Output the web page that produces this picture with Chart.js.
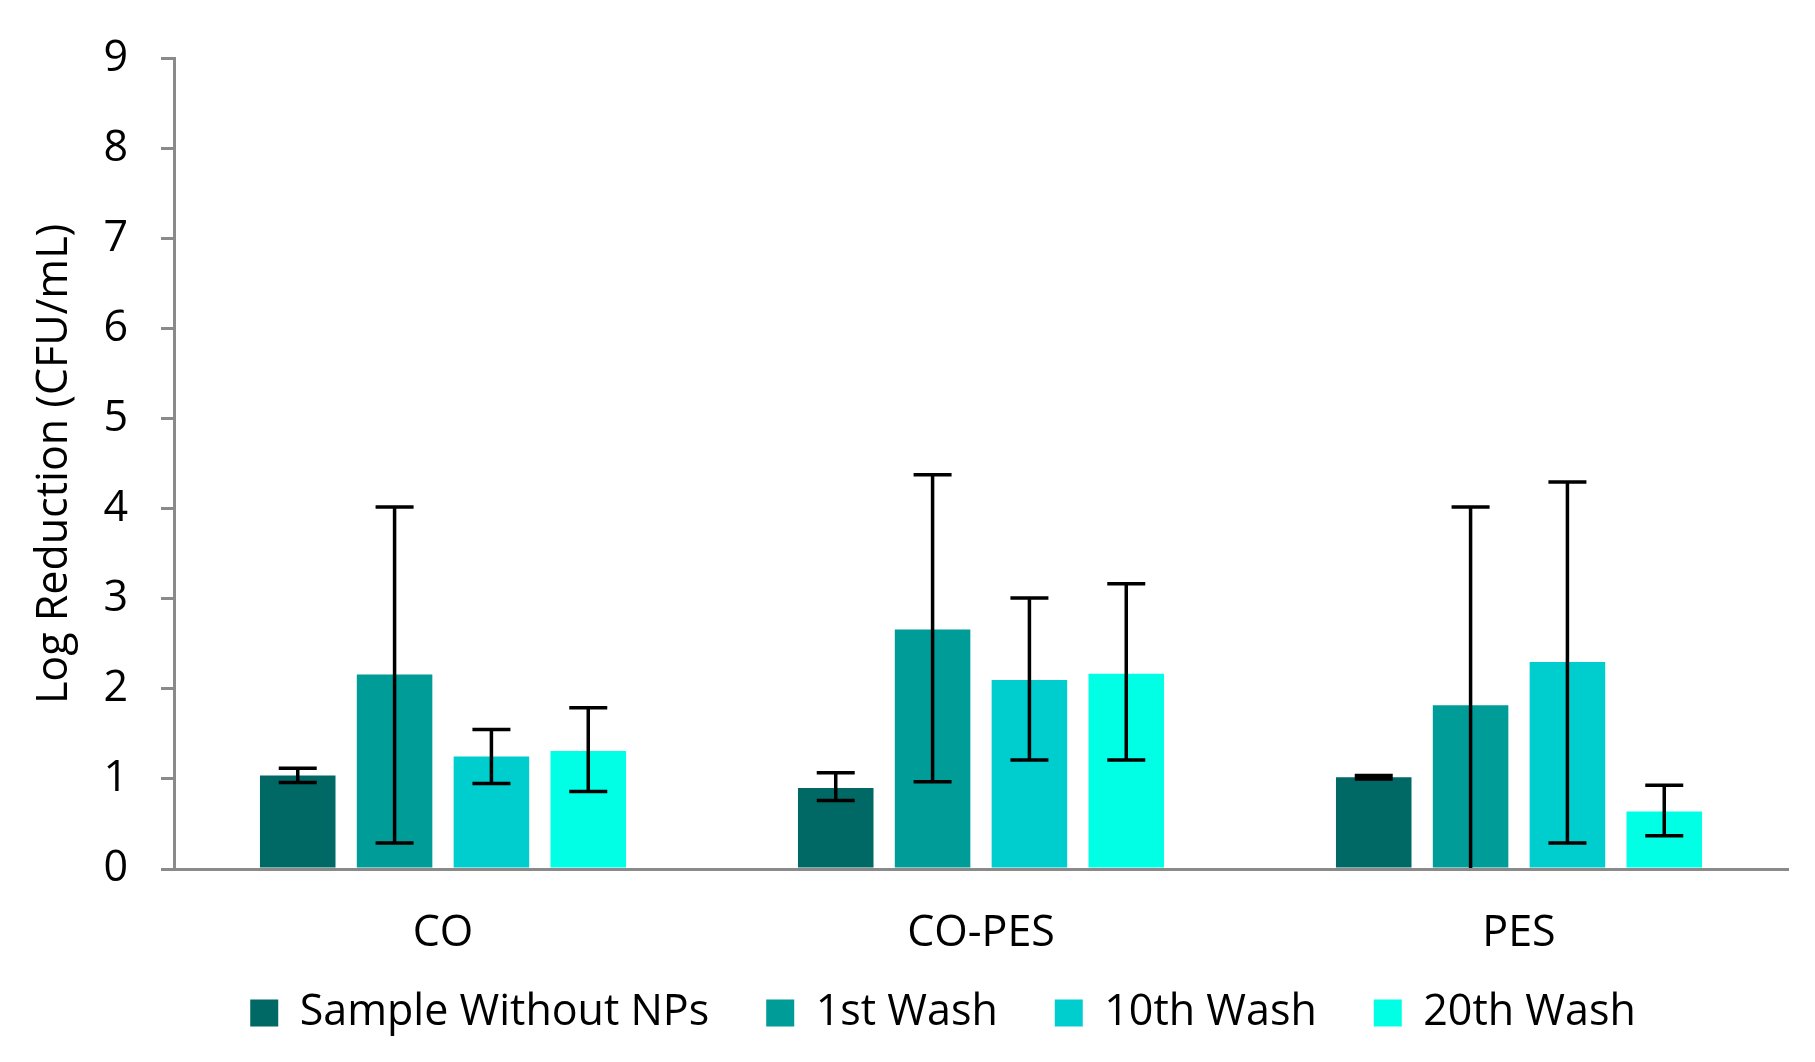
<!DOCTYPE html>
<html>
<head>
<meta charset="utf-8">
<script src="https://cdn.jsdelivr.net/npm/chart.js@4.4.1/dist/chart.umd.min.js"></script>
<style>
  html, body { margin: 0; padding: 0; background: #fff; }
  #wrap { width: 1815px; height: 1062px; }
</style>
</head>
<body>
<div id="wrap"><canvas id="chartLog"></canvas></div>
<script>
// Données
const categories = ["CO", "CO-PES", "PES"];
const seriesNames = ["Sample Without NPs", "1st Wash", "10th Wash", "20th Wash"];
const seriesColors = ["#006966", "#009c98", "#00cdcd", "#00ffe5"];

const sampleWithout = [1.04, 0.90, 1.02];
const wash1 = [2.16, 2.66, 1.82];
const wash10 = [1.25, 2.10, 2.30];
const wash20 = [1.31, 2.17, 0.64];

// Barres d'erreur (bas / haut)
const sampleLow = [0.96, 0.76, 1.00];
const sampleHigh = [1.12, 1.07, 1.04];
const wash1Low = [0.29, 0.97, 0.00];
const wash1High = [4.02, 4.38, 4.02];
const wash10Low = [0.95, 1.21, 0.29];
const wash10High = [1.55, 3.01, 4.30];
const wash20Low = [0.86, 1.21, 0.37];
const wash20High = [1.79, 3.17, 0.93];

const yTicks = [0, 1, 2, 3, 4, 5, 6, 7, 8, 9];

const values = [sampleWithout, wash1, wash10, wash20];
const lows = [sampleLow, wash1Low, wash10Low, wash20Low];
const highs = [sampleHigh, wash1High, wash10High, wash20High];

const axisGrey = "#8a8a8a";
const fontSize = 43;
const legendPadding = 57;
Chart.defaults.font.family = "'Open Sans', sans-serif";
Chart.defaults.color = "#000";

// Barres d'erreur dessinées par-dessus les barres
const errorBars = {
  id: "errorBars",
  afterDatasetsDraw(chart) {
    const ctx = chart.ctx;
    const y = chart.scales.y;
    ctx.save();
    ctx.strokeStyle = "#000";
    ctx.lineWidth = 3.5;
    chart.data.datasets.forEach((ds, i) => {
      chart.getDatasetMeta(i).data.forEach((bar, j) => {
        const yLo = y.getPixelForValue(ds.errLow[j]);
        const yHi = y.getPixelForValue(ds.errHigh[j]);
        const half = 19;
        ctx.beginPath();
        ctx.moveTo(bar.x, yLo);
        ctx.lineTo(bar.x, yHi);
        ctx.moveTo(bar.x - half, yHi);
        ctx.lineTo(bar.x + half, yHi);
        if (ds.errLow[j] > 0) {
          ctx.moveTo(bar.x - half, yLo);
          ctx.lineTo(bar.x + half, yLo);
        }
        ctx.stroke();
      });
    });
    ctx.restore();
  }
};

// Légende : hauteur fixe puis remontée sous les catégories
const legendPlace = {
  id: "legendPlace",
  beforeLayout(chart) {
    const lg = chart.legend;
    if (lg && !lg._fixed) {
      const fit = lg.fit;
      lg.fit = function () {
        fit.call(this);
        this.height = 92;
      };
      lg._fixed = true;
    }
  },
  afterLayout(chart) {
    const lg = chart.legend;
    lg.top = 1013 - legendPadding - fontSize / 2;
    lg.left += 49;
    lg.right += 49;
  }
};

const ctx = document.getElementById("chartLog").getContext("2d");
new Chart(ctx, {
  type: "bar",
  data: {
    labels: categories,
    datasets: seriesNames.map((name, i) => ({
      label: name,
      data: values[i],
      errLow: lows[i],
      errHigh: highs[i],
      backgroundColor: seriesColors[i],
      borderWidth: 0,
      categoryPercentage: 0.72,
      barPercentage: 0.78
    }))
  },
  options: {
    responsive: true,
    maintainAspectRatio: false,
    devicePixelRatio: 1,
    animation: false,
    layout: { padding: { top: 49, right: 27, left: 0, bottom: 0 } },
    plugins: {
      legend: {
        position: "bottom",
        labels: {
          boxWidth: 28,
          boxHeight: 27,
          padding: legendPadding,
          font: { size: fontSize },
          color: "#000"
        }
      },
      tooltip: { enabled: false }
    },
    scales: {
      x: {
        grid: { display: false },
        border: { display: true, color: axisGrey, width: 3, z: 1 },
        ticks: { font: { size: fontSize }, color: "#000", padding: 31 },
        afterFit: s => { s.height = 101; }
      },
      y: {
        min: 0,
        max: 9,
        afterBuildTicks: s => { s.ticks = yTicks.map(v => ({ value: v })); },
        grid: { drawOnChartArea: false, drawTicks: true, tickLength: 13, color: axisGrey, lineWidth: 3 },
        border: { display: true, color: axisGrey, width: 3 },
        ticks: { font: { size: fontSize }, color: "#000", padding: 33 },
        title: {
          display: true,
          text: "Log Reduction (CFU/mL)",
          font: { size: fontSize },
          color: "#000",
          padding: { top: 29, bottom: 0 }
        },
        afterFit: s => { s.width = 174; }
      }
    }
  },
  plugins: [errorBars, legendPlace]
});
</script>
</body>
</html>
